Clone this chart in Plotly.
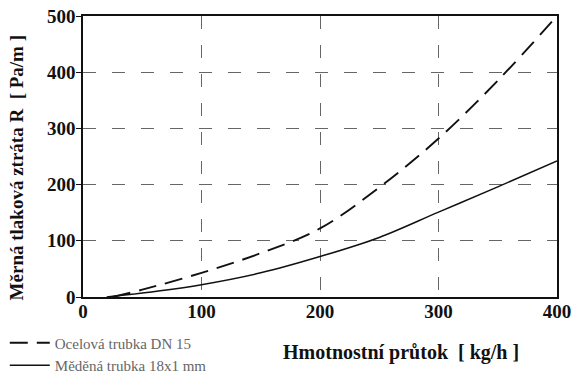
import plotly.graph_objects as go

x_steel = [25, 50, 100, 150, 200, 250, 300, 350, 400]
y_steel = [0, 13, 43, 78, 122, 195, 282, 385, 500]
x_copper = [20, 50, 100, 150, 200, 250, 300, 350, 400]
y_copper = [0, 7, 22, 43, 72, 106, 151, 196, 242]

x_ticks = [0, 100, 200, 300, 400]
y_ticks = [0, 100, 200, 300, 400, 500]

name_steel = "Ocelová trubka DN 15"
name_copper = "Měděná trubka 18x1 mm"
x_title = "Hmotnostní průtok  [ kg/h ]"
y_title = "Měrná tlaková ztráta R  [ Pa/m ]"

serif = "Liberation Serif"

fig = go.Figure()
fig.add_trace(go.Scatter(x=x_steel, y=y_steel, mode="lines", name=name_steel,
                         line=dict(color="#111", width=1.9, dash="18px,9px", shape="spline")))
fig.add_trace(go.Scatter(x=x_copper, y=y_copper, mode="lines", name=name_copper,
                         line=dict(color="#111", width=1.5, shape="spline")))

fig.update_layout(
    width=575, height=374,
    margin=dict(l=83, r=18, t=16, b=77, autoexpand=False),
    paper_bgcolor="white", plot_bgcolor="white",
    font=dict(family=serif, color="#111"),
    showlegend=True,
    legend=dict(x=-0.165, y=-0.105, xanchor="left", yanchor="top",
                font=dict(family=serif, size=15, color="#666"),
                tracegroupgap=0, itemwidth=40, bgcolor="rgba(0,0,0,0)"),
    xaxis=dict(range=[0, 400], tickvals=x_ticks,
               ticktext=["<b>%d</b>" % v for v in x_ticks], showgrid=True,
               gridcolor="#666", griddash="13px,16px", gridwidth=1.2,
               showline=True, linecolor="#111", linewidth=1.5, mirror=True,
               zeroline=False, ticks="", automargin=False, ticklabelstandoff=-4,
               tickfont=dict(family=serif, size=19, color="#111", weight="bold")),
    yaxis=dict(range=[0, 500], tickvals=y_ticks,
               ticktext=["<b>%d</b>" % v for v in y_ticks], showgrid=True,
               gridcolor="#666", griddash="13px,16px", gridwidth=1.2,
               showline=True, linecolor="#111", linewidth=1.5, mirror=True,
               zeroline=False, ticks="outside", ticklen=5, tickcolor="#111", automargin=False,
               ticklabelstandoff=-3,
               tickfont=dict(family=serif, size=19, color="#111", weight="bold")),
    annotations=[
        dict(text=x_title, xref="paper", yref="paper", x=0.67, y=-0.196,
             xanchor="center", yanchor="middle", showarrow=False,
             font=dict(family=serif, size=20, color="#111", weight="bold")),
        dict(text=y_title, xref="paper", yref="paper", x=-0.14, y=0.46,
             xanchor="center", yanchor="middle", showarrow=False, textangle=-90,
             font=dict(family=serif, size=19, color="#111", weight="bold")),
    ],
)

fig.write_html("out.html")
